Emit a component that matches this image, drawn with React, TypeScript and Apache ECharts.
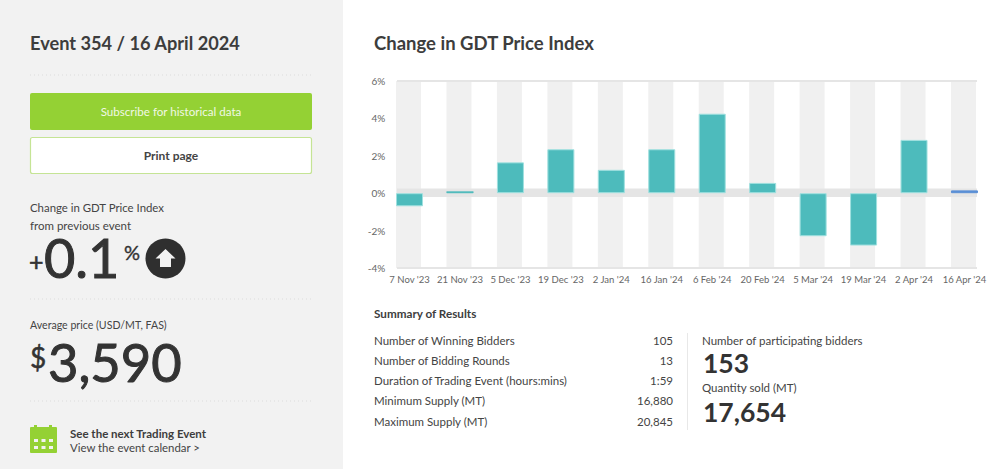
import React, { useEffect, useRef } from "react";
import * as echarts from "echarts";

const FONT = "Lato, 'Open Sans', sans-serif";
const categories = ["7 Nov '23", "21 Nov '23", "5 Dec '23", "19 Dec '23", "2 Jan '24", "16 Jan '24", "6 Feb '24", "20 Feb '24", "5 Mar '24", "19 Mar '24", "2 Apr '24", "16 Apr '24"];
const changes = [-0.7, 0.1, 1.65, 2.35, 1.25, 2.35, 4.25, 0.55, -2.3, -2.8, 2.85, 0.15];
const axisMax = 6;
const axisMin = -4;
const stripeUp = categories.map(() => axisMax);
const stripeDown = categories.map(() => axisMin);
const zeroBand = [0.25, -0.2];
const leftStats = ["Number of Winning Bidders", "Number of Bidding Rounds", "Duration of Trading Event (hours:mins)", "Minimum Supply (MT)", "Maximum Supply (MT)"];
const leftValues = ["105", "13", "1:59", "16,880", "20,845"];

const DARK = "#333333";
const MID = "#444444";

function txt(x: number, y: number, text: string, size: number, weight: number | string = 400, fill = MID, align = "left") {
  return { type: "text", x, y: size < 14 ? y - 0.7 : y, silent: true, style: { text, fontSize: size, fontWeight: weight, fontFamily: FONT, fill, align, verticalAlign: "middle" } };
}
function heavy(x: number, y: number, text: string, size: number, width = 1) {
  const t: any = txt(x, y, text, size, 400, DARK);
  t.style.stroke = DARK;
  t.style.lineWidth = width;
  return t;
}
function dots(y: number) {
  return { type: "line", silent: true, shape: { x1: 30, y1: y, x2: 312, y2: y }, style: { stroke: "#dcdcdc", lineWidth: 1, lineDash: [1, 3] } };
}
function rect(x: number, y: number, width: number, height: number, fill: string, extra: any = {}) {
  return { type: "rect", silent: true, shape: { x, y, width, height, r: extra.r || 0 }, style: { fill, stroke: extra.stroke, lineWidth: extra.lineWidth } };
}

const calendarCells: any[] = [];
[35, 42.5, 50].forEach((x) => [439, 446].forEach((y) => calendarCells.push(rect(x - 1, y, 4, 3, "#f2f2f2"))));

const graphicElements: any[] = [
  { ...rect(0, 0, 343, 469, "#f2f2f2"), z: -10 },
  txt(30, 43, "Event 354 / 16 April 2024", 18.2, 700, "#3d3d3d"),
  dots(75),
  rect(30, 93, 282, 37, "#94d134", { r: 2 }),
  txt(171, 112, "Subscribe for historical data", 11.6, 400, "#f1f8e4", "center"),
  rect(30.5, 137.5, 281, 36, "#ffffff", { r: 2, stroke: "#c5e495", lineWidth: 1.2 }),
  txt(171, 156, "Print page", 12, 700, "#444444", "center"),
  txt(30, 208, "Change in GDT Price Index", 11.4, 400),
  txt(30, 226, "from previous event", 11.5, 400),
  heavy(29, 261, "+", 25, 0.6),
  heavy(44, 257, "0.1", 54),
  heavy(124, 252, "%", 20, 0.4),
  { type: "circle", silent: true, shape: { cx: 165.5, cy: 258.5, r: 20 }, style: { fill: "#2f2f2f" } },
  { type: "polygon", silent: true, shape: { points: [[165.5, 249], [175.5, 258.5], [171, 258.5], [171, 267], [160, 267], [160, 258.5], [155.5, 258.5]] }, style: { fill: "#f2f2f2" } },
  dots(299),
  txt(30, 326, "Average price (USD/MT, FAS)", 10.6, 400),
  heavy(30, 357, "$", 28, 0.5),
  heavy(48, 361, "3,590", 52.5),
  dots(401),
  rect(30, 427, 27, 26, "#94d134", { r: 1 }),
  rect(34, 425, 3, 5, "#94d134"),
  rect(49, 425, 3, 5, "#94d134"),
  ...calendarCells,
  txt(70, 434, "See the next Trading Event", 11.5, 700, "#3d3d3d"),
  txt(70, 448, "View the event calendar >", 11.4, 400),
  txt(374, 43, "Change in GDT Price Index", 18.5, 700, "#3d3d3d"),
  txt(374, 314, "Summary of Results", 11.7, 700, "#3d3d3d"),
  ...leftStats.map((s, i) => txt(374, 341 + i * 20.2, s, 11.5, 400)),
  ...leftValues.map((s, i) => txt(673, 341 + i * 20.2, s, 11.5, 400, MID, "right")),
  { type: "line", silent: true, shape: { x1: 687.5, y1: 333, x2: 687.5, y2: 430 }, style: { stroke: "#e8e8e8", lineWidth: 1 } },
  txt(702, 341, "Number of participating bidders", 11.5, 400),
  txt(703, 363, "153", 26.5, 700, DARK),
  txt(702, 388, "Quantity sold (MT)", 11.5, 400),
  txt(703, 412, "17,654", 26.5, 700, DARK),
];

export default function App() {
  const ref = useRef<HTMLDivElement>(null);
  useEffect(() => {
    document.body.style.margin = "0";
    const chart = echarts.init(ref.current!, null, { renderer: "svg" });
    const stripeBase = { type: "bar", barWidth: 25, barGap: "-100%", silent: true, itemStyle: { color: "#f0f0f0" }, z: 1, emphasis: { disabled: true } };
    chart.setOption({
      animation: false,
      textStyle: { fontFamily: FONT },
      grid: { left: 384.3, right: 0.3, top: 81, height: 187, outerBoundsMode: "none" },
      graphic: { elements: graphicElements },
      xAxis: {
        type: "category",
        data: categories,
        axisLine: { show: false },
        axisTick: { show: false },
        axisLabel: { color: "#666666", fontSize: 9.5, margin: 6, interval: 0, fontFamily: FONT, hideOverlap: false },
      },
      yAxis: {
        type: "value",
        min: axisMin,
        max: axisMax,
        interval: 2,
        axisLine: { show: false },
        axisTick: { show: false },
        splitLine: { show: false },
        axisLabel: { color: "#666666", fontSize: 10, margin: -1, fontFamily: FONT, formatter: "{value}%" },
      },
      series: [
        { ...stripeBase, name: "stripe up", data: stripeUp },
        { ...stripeBase, name: "stripe down", data: stripeDown },
        {
          type: "custom",
          name: "frame",
          silent: true,
          z: 2,
          data: [[zeroBand[0], zeroBand[1]]],
          encode: { y: [0, 1] },
          renderItem: (_: any, api: any) => {
            const half = 12.5;
            const a = api.coord([0, api.value(0)]);
            const b = api.coord([categories.length - 1, api.value(1)]);
            const t = api.coord([0, axisMax]);
            const m = api.coord([0, axisMin]);
            const x = a[0] - half;
            const w = b[0] + half - x;
            const fill = { fill: "#e5e5e5" };
            return {
              type: "group",
              children: [
                { type: "rect", shape: { x, y: a[1], width: w, height: b[1] - a[1] }, style: fill },
                { type: "rect", shape: { x, y: t[1] - 1, width: w, height: 2 }, style: fill },
                { type: "rect", shape: { x, y: m[1] - 1, width: w, height: 2 }, style: fill },
              ],
            };
          },
        },
        {
          type: "bar",
          name: "Change",
          barWidth: 27,
          barGap: "-100%",
          z: 3,
          data: changes.map((v, i) => ({
            value: v,
            itemStyle: i === changes.length - 1
              ? { color: "#5b8fd6", borderColor: "#5b8fd6", borderWidth: 1 }
              : i === 1
              ? { color: "#4dbbbc", borderColor: "#4dbbbc", borderWidth: 0.5 }
              : { color: "#4dbbbc", borderColor: "#9fe0df", borderWidth: 1 },
          })),
        },
      ],
    });
    return () => chart.dispose();
  }, []);
  return <div ref={ref} style={{ width: 990, height: 469 }} />;
}
